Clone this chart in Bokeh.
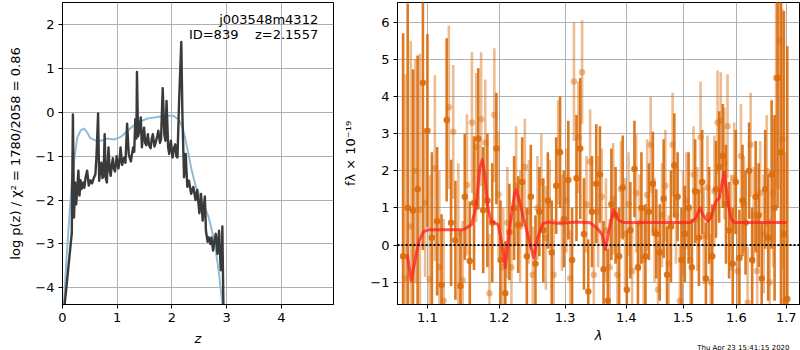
import numpy as np
from bokeh.plotting import figure
from bokeh.layouts import row
from bokeh.models import FixedTicker, CustomJSTickFormatter, Span, Label, ColumnDataSource, Title
from bokeh.embed import file_html
from bokeh.resources import INLINE

FONT = "DejaVu Sans"

# ---------------- left panel: p(z) ----------------
pz_z = [0.03, 0.11, 0.15, 0.17, 0.19, 0.21, 0.23, 0.25, 0.27, 0.29, 0.31, 0.33, 0.35, 0.38,
        0.40, 0.42, 0.45, 0.48, 0.51, 0.54, 0.57, 0.60, 0.62, 0.65, 0.67, 0.69, 0.71, 0.73,
        0.75, 0.77, 0.79, 0.81, 0.84, 0.86, 0.88, 0.90, 0.92, 0.94, 0.96, 0.99, 1.02, 1.04,
        1.06, 1.09, 1.11, 1.13, 1.15, 1.18, 1.21, 1.23, 1.25, 1.27, 1.29, 1.31, 1.33, 1.35,
        1.36, 1.38, 1.40, 1.43, 1.45, 1.47, 1.49, 1.51, 1.53, 1.56, 1.58, 1.61, 1.63, 1.65,
        1.68, 1.70, 1.73, 1.75, 1.78, 1.80, 1.83, 1.86, 1.88, 1.90, 1.93, 1.95, 1.98, 2.01,
        2.04, 2.06, 2.08, 2.10, 2.13, 2.17, 2.19, 2.22, 2.25, 2.28, 2.31, 2.35, 2.39, 2.43,
        2.46, 2.50, 2.53, 2.56, 2.60, 2.62, 2.65, 2.67, 2.70, 2.72, 2.75, 2.78, 2.80, 2.83,
        2.86, 2.89, 2.91, 2.92, 2.94]
pz_logp = [-4.5, -3.5, -3.0, -2.75, -0.05, -2.4, -1.6, -2.1, -1.75, -1.33, -1.9, -1.55, -1.75, -1.6,
           -1.72, -1.5, -1.33, -1.67, -1.55, -1.62, -1.5, -1.42, -1.03, -0.03, -1.56, -1.3, -1.15, -1.5,
           -1.45, -0.5, -1.5, -1.6, -0.8, -1.3, -1.45, -1.2, -1.05, -1.3, -1.35, -1.0, -1.28, -1.15,
           -0.8, -1.2, -1.1, -1.03, -1.15, -0.26, -0.95, -1.05, -1.12, -0.95, -0.8, -0.9, -0.16, -0.6,
           0.92, -0.55, -0.45, -0.12, -0.8, -0.55, -0.35, -0.7, -0.75, -0.5, -0.75, -0.82, -0.6, -0.5,
           -0.78, -0.7, -0.55, -0.42, -0.7, -0.62, 0.55, -0.5, -0.65, 0.26, -0.8, -0.95, -0.65, -1.03,
           -0.8, -0.73, -1.0, -1.03, 0.26, 1.6, -0.05, -1.48, -0.95, -1.7, -1.56, -1.86, -1.7, -2.0,
           -1.77, -2.3, -1.86, -2.47, -1.92, -2.7, -2.95, -2.85, -3.0, -2.85, -3.15, -2.9, -2.77, -3.23,
           -2.7, -3.6, -3.55, -2.6, -4.5]

prior_z = [0.02, 0.08, 0.13, 0.17, 0.22, 0.27, 0.33, 0.39, 0.45, 0.51, 0.60, 0.70, 0.82, 0.94,
           1.07, 1.19, 1.31, 1.44, 1.56, 1.68, 1.81, 1.93, 2.02, 2.12, 2.18, 2.24, 2.30, 2.36,
           2.43, 2.49, 2.55, 2.61, 2.67, 2.73, 2.80, 2.86, 2.90, 2.93]
prior_logp = [-4.5, -3.2, -2.3, -1.56, -1.03, -0.58, -0.42, -0.37, -0.46, -0.59, -0.64, -0.65, -0.6, -0.62,
              -0.56, -0.42, -0.29, -0.2, -0.14, -0.12, -0.09, -0.08, -0.08, -0.16, -0.31, -0.58, -0.95, -1.33,
              -1.67, -1.86, -2.0, -2.2, -2.39, -2.7, -3.15, -3.68, -4.14, -4.5]

left_xticks = [0, 1, 2, 3, 4]
left_yticks = [-4, -3, -2, -1, 0, 1, 2]

# ---------------- right panel: spectrum ----------------
model_lam = [1.0735, 1.0787, 1.0843, 1.0886, 1.0952, 1.1018, 1.1489, 1.1604, 1.1665, 1.1721, 1.1758,
             1.1791, 1.1838, 1.1885, 1.1933, 1.1986, 1.2033, 1.2091, 1.2154, 1.2227, 1.2251, 1.2300,
             1.2374, 1.2449, 1.2513, 1.2573, 1.2649, 1.2725, 1.2878, 1.3033, 1.3190, 1.3403, 1.3510,
             1.3596, 1.3651, 1.3705, 1.3788, 1.3870, 1.3954, 1.5143, 1.5234, 1.5313, 1.5362, 1.5454,
             1.5516, 1.5609, 1.5672, 1.5766, 1.5829, 1.5892, 1.5956, 1.7007]
model_flux = [-0.25, -0.96, -0.34, 0.1, 0.37, 0.41, 0.41, 0.55, 1.0, 2.07, 2.3,
              1.9, 1.0, 0.64, 0.6, 0.55, 0.1, -0.6, 0.46, 1.4, 1.49, 1.18,
              0.64, 0.1, -0.34, 0.2, 0.57, 0.62, 0.59, 0.6, 0.62, 0.6, 0.46,
              0.29, -0.12, 0.37, 0.96, 0.66, 0.61, 0.61, 0.73, 1.0, 0.82, 0.64,
              0.73, 1.18, 1.27, 1.96, 1.27, 0.73, 0.61, 0.61]

lam_a = [1.068, 1.074, 1.081, 1.087, 1.094, 1.100, 1.106, 1.113, 1.119, 1.126, 1.132, 1.138, 1.145,
         1.151, 1.158, 1.164, 1.170, 1.177, 1.183, 1.190, 1.196, 1.202, 1.209, 1.215, 1.222, 1.228,
         1.234, 1.241, 1.247, 1.254, 1.260, 1.266, 1.273, 1.279, 1.286, 1.292, 1.298, 1.305, 1.311,
         1.318, 1.324, 1.330, 1.337, 1.343, 1.350, 1.356, 1.362, 1.369, 1.375, 1.382, 1.388, 1.394,
         1.401, 1.407, 1.414, 1.420, 1.426, 1.433, 1.439, 1.446, 1.452, 1.458, 1.465, 1.471, 1.478,
         1.484, 1.490, 1.497, 1.503, 1.510, 1.516, 1.522, 1.529, 1.535, 1.542, 1.548, 1.554, 1.561,
         1.567, 1.574, 1.580, 1.586, 1.593, 1.599, 1.606, 1.612, 1.618, 1.625, 1.631, 1.638, 1.644,
         1.650, 1.657, 1.663, 1.670, 1.676, 1.682, 1.689, 1.695, 1.702]
flux_a = [-0.3, 1.0, 0.93, 1.5, 4.37, 3.08, 0.2, 0.64, -1.07, 3.37, 0.6, 0.13, -1.1,
          1.3, -0.43, 1.13, 2.86, 0.94, 1.2, 0.6, 2.6, -0.4, -1.3, 0.35, 1.0, 0.55,
          1.7, -0.3, 1.3, -0.5, 0.9, 0.4, 1.2, -0.2, 1.6, 2.5, 0.7, 1.75, -0.4,
          1.8, 2.6, 0.3, -1.25, 0.9, 1.65, 1.9, -0.65, -1.5, 1.1, 0.8, -0.3, 1.55,
          -1.2, 0.4, 2.05, -0.6, 1.0, -0.3, 0.9, 1.65, 0.3, -0.2, 1.25, -0.8, 0.5,
          2.15, 1.3, -0.4, 0.3, 1.0, -0.6, 1.45, 0.2, 1.7, -0.9, 0.8, -0.3, 1.5,
          2.1, 2.4, 1.1, 0.4, -0.5, 1.7, -0.35, 1.2, 0.6, 2.0, -0.4, 1.3, 0.8,
          -0.9, 1.5, 0.2, 1.9, 1.0, 4.5, 2.5, 0.3, -1.45]
err_a = [6.0, 5.5, 3.8, 3.6, 4.5, 2.6, 2.3, 2.0, 1.9, 2.2, 1.7, 1.6, 1.5,
         1.7, 1.6, 1.8, 1.9, 1.7, 1.8, 1.6, 1.5, 1.6, 1.4, 1.3, 1.4, 1.3,
         1.2, 1.3, 1.4, 1.3, 1.2, 1.4, 1.3, 1.4, 1.3, 1.5, 1.3, 1.6, 1.4,
         1.7, 1.9, 1.5, 1.4, 1.5, 1.6, 1.3, 1.3, 1.4, 1.5, 1.3, 1.3, 1.4,
         1.6, 1.3, 1.3, 1.2, 1.5, 1.4, 1.3, 1.4, 1.2, 1.3, 1.6, 1.3, 1.5,
         1.4, 1.2, 1.4, 1.3, 1.5, 1.3, 1.4, 1.3, 1.4, 1.5, 1.3, 1.4, 1.3,
         1.5, 1.4, 1.6, 1.3, 1.5, 1.4, 1.3, 1.5, 1.4, 1.3, 1.4, 1.5, 1.4,
         1.5, 1.6, 1.7, 2.0, 2.5, 3.5, 5.0, 6.0, 6.8]

lam_b = [1.071, 1.078, 1.084, 1.090, 1.097, 1.103, 1.110, 1.116, 1.122, 1.129, 1.135, 1.142, 1.148,
         1.154, 1.161, 1.167, 1.174, 1.180, 1.186, 1.193, 1.199, 1.206, 1.212, 1.218, 1.225, 1.231,
         1.238, 1.244, 1.250, 1.257, 1.263, 1.270, 1.276, 1.282, 1.289, 1.295, 1.302, 1.308, 1.314,
         1.321, 1.327, 1.334, 1.340, 1.346, 1.353, 1.359, 1.366, 1.372, 1.378, 1.385, 1.391, 1.398,
         1.404, 1.410, 1.417, 1.423, 1.430, 1.436, 1.442, 1.449, 1.455, 1.462, 1.468, 1.474, 1.481,
         1.487, 1.494, 1.500, 1.506, 1.513, 1.519, 1.526, 1.532, 1.538, 1.545, 1.551, 1.558, 1.564,
         1.570, 1.577, 1.583, 1.590, 1.596, 1.602, 1.609, 1.615, 1.622, 1.628, 1.634, 1.641, 1.647,
         1.654, 1.660, 1.666, 1.673, 1.679, 1.686, 1.692, 1.698]
flux_b = [-0.9, 0.5, 2.0, 0.95, 1.14, -0.92, 2.07, -0.6, -1.5, 3.71, 3.05, 0.3, -0.95,
          1.62, 3.3, 2.63, 3.39, 2.76, -1.3, 3.5, 1.36, -0.6, 0.6, -0.6, 1.6, 0.5,
          2.1, 0.9, -0.8, 1.0, 1.7, 0.2, 1.1, -0.8, 2.5, 0.6, 1.2, -0.9, 4.4,
          2.9, 4.65, 1.1, 2.25, -0.8, 0.9, 1.3, 0.4, -0.6, 1.25, -0.8, 1.5, 0.3,
          1.1, -0.7, 1.4, 0.6, -0.4, 1.35, 2.7, 0.4, -1.2, 0.8, 1.6, -0.5, 2.7,
          0.8, -1.5, 0.6, 1.2, -0.4, 1.9, 0.7, 2.9, 0.25, 1.55, -1.0, 1.45, 3.3,
          3.35, 2.2, 3.2, 0.6, 1.8, -0.7, 2.4, 1.1, -1.55, 2.7, 0.8, -0.7, 1.4,
          0.3, 2.0, -1.0, 1.4, 4.5, 5.5, 2.85, -1.5]
err_b = [5.5, 5.0, 3.0, 4.2, 2.0, 2.8, 2.5, 2.6, 2.2, 2.2, 1.8, 1.9, 1.6,
         1.9, 1.9, 2.0, 1.8, 1.7, 1.6, 1.8, 1.7, 1.6, 1.5, 1.4, 1.6, 1.5,
         1.3, 1.4, 1.3, 1.4, 1.3, 1.4, 1.2, 1.5, 1.4, 1.3, 1.4, 1.3, 1.6,
         1.5, 1.4, 1.3, 1.4, 1.3, 1.5, 1.3, 1.4, 1.3, 1.5, 1.4, 1.3, 1.5,
         1.4, 1.3, 1.6, 1.3, 1.4, 1.5, 1.3, 1.4, 1.3, 1.4, 1.5, 1.3, 1.4,
         1.3, 1.5, 1.4, 1.3, 1.5, 1.3, 1.4, 1.5, 1.3, 1.4, 1.3, 1.5, 1.4,
         1.3, 1.5, 1.4, 1.3, 1.5, 1.3, 1.4, 1.3, 1.5, 1.4, 1.3, 1.5, 1.4,
         1.6, 1.5, 1.7, 2.0, 3.0, 4.0, 3.5, 4.0]

right_xticks = [1.1, 1.2, 1.3, 1.4, 1.5, 1.6, 1.7]
right_yticks = [-1, 0, 1, 2, 3, 4, 5, 6]

obj_name = "j003548m4312"
obj_info = "ID=839\u00a0\u00a0\u00a0\u00a0z=2.1557"
timestamp = "Thu Apr 23 15:41:15 2020"

MINUS_FMT = CustomJSTickFormatter(code="""
    var s = Math.abs(tick).toString();
    return (tick < 0 ? '\\u2212' : '') + s;
""")
DEC_FMT = CustomJSTickFormatter(code="return tick.toFixed(1);")

FS = "13px"


def style(p):
    p.background_fill_color = "white"
    p.border_fill_color = "white"
    p.outline_line_color = "black"
    p.outline_line_width = 1
    p.outline_line_alpha = 1
    for ax in (p.xaxis, p.yaxis):
        ax.axis_line_color = "black"
        ax.major_tick_line_color = "black"
        ax.major_tick_out = 4
        ax.major_tick_in = 0
        ax.minor_tick_line_color = None
        ax.major_label_text_font = FONT
        ax.major_label_text_font_size = FS
        ax.major_label_text_color = "black"
        ax.axis_label_text_font = FONT
        ax.axis_label_text_font_size = FS
        ax.axis_label_text_color = "black"
        ax.major_label_standoff = 4
        ax.axis_label_standoff = 6
    p.yaxis.axis_label_standoff = 9
    p.grid.grid_line_color = "#b0b0b0"
    p.grid.grid_line_width = 1
    p.grid.grid_line_alpha = 1


H = 350
p1 = figure(width=340, height=H, x_range=(0, 4.95), y_range=(-4.38, 2.5),
            output_backend="svg", toolbar_location=None,
            min_border_left=62, min_border_right=7, min_border_top=2, min_border_bottom=46)
style(p1)
p1.xaxis.ticker = FixedTicker(ticks=left_xticks)
p1.yaxis.ticker = FixedTicker(ticks=left_yticks)
p1.xaxis.formatter = MINUS_FMT
p1.yaxis.formatter = MINUS_FMT
p1.xaxis.axis_label = "z"
p1.xaxis.axis_label_text_font_style = "italic"
p1.yaxis.axis_label = "log p(z) / \u03c7\u00b2 = 1780/2058 = 0.86"
p1.yaxis.axis_label_text_font_style = "normal"

p1.line(prior_z, prior_logp, line_color="#8fbbd9", line_width=2)
p1.line(pz_z, pz_logp, line_color="#3a3a3a", line_width=2.4, line_join="round")

p1.add_layout(Label(x=4.67, y=2.11, text=obj_name, text_align="right", text_baseline="middle",
                    text_font=FONT, text_font_size=FS, text_color="black"))
p1.add_layout(Label(x=4.67, y=1.77, text=obj_info, text_align="right", text_baseline="middle",
                    text_font=FONT, text_font_size=FS, text_color="black"))

p2 = figure(width=460, height=H, x_axis_type="log", x_range=(1.0608, 1.7274), y_range=(-1.6, 6.53),
            output_backend="svg", toolbar_location=None,
            min_border_left=52, min_border_right=1, min_border_top=2, min_border_bottom=46)
style(p2)
p2.xaxis.ticker = FixedTicker(ticks=right_xticks)
p2.xaxis.formatter = DEC_FMT
p2.yaxis.ticker = FixedTicker(ticks=right_yticks)
p2.yaxis.formatter = MINUS_FMT
p2.xaxis.axis_label = "\u03bb"
p2.xaxis.axis_label_text_font_style = "italic"
p2.xaxis.axis_label_standoff = 3
p2.yaxis.axis_label = "f\u03bb \u00d7 10\u207b\u00b9\u2079"
p2.yaxis.axis_label_text_font_style = "normal"

ORANGE = "#d96b0c"
fa = np.array(flux_a); ea = np.array(err_a)
fb = np.array(flux_b); eb = np.array(err_b)
src_b = ColumnDataSource(dict(lam=lam_b, f=flux_b, lo=fb - eb, hi=fb + eb))
src_a = ColumnDataSource(dict(lam=lam_a, f=flux_a, lo=fa - ea, hi=fa + ea))

p2.segment(x0="lam", y0="lo", x1="lam", y1="hi", source=src_b, line_color=ORANGE,
           line_alpha=0.45, line_width=2.6)
p2.scatter(x="lam", y="f", source=src_b, size=6.5, fill_color=ORANGE, fill_alpha=0.45, line_color=None)
p2.segment(x0="lam", y0="lo", x1="lam", y1="hi", source=src_a, line_color=ORANGE,
           line_alpha=0.9, line_width=2.6)
p2.scatter(x="lam", y="f", source=src_a, size=6.5, fill_color=ORANGE, fill_alpha=0.9, line_color=None)

p2.line(model_lam, model_flux, line_color="#ff2020", line_alpha=0.75, line_width=3, line_join="round")
p2.add_layout(Span(location=0, dimension="width", line_color="black", line_width=2, line_dash="2 2"))

p2.add_layout(Title(text=timestamp, align="right", text_font=FONT, text_font_size="7px",
                    text_font_style="normal", text_color="black", standoff=-12, offset=10), "below")

layout = row(p1, p2)
open("out.html", "w").write(file_html(layout, INLINE))
